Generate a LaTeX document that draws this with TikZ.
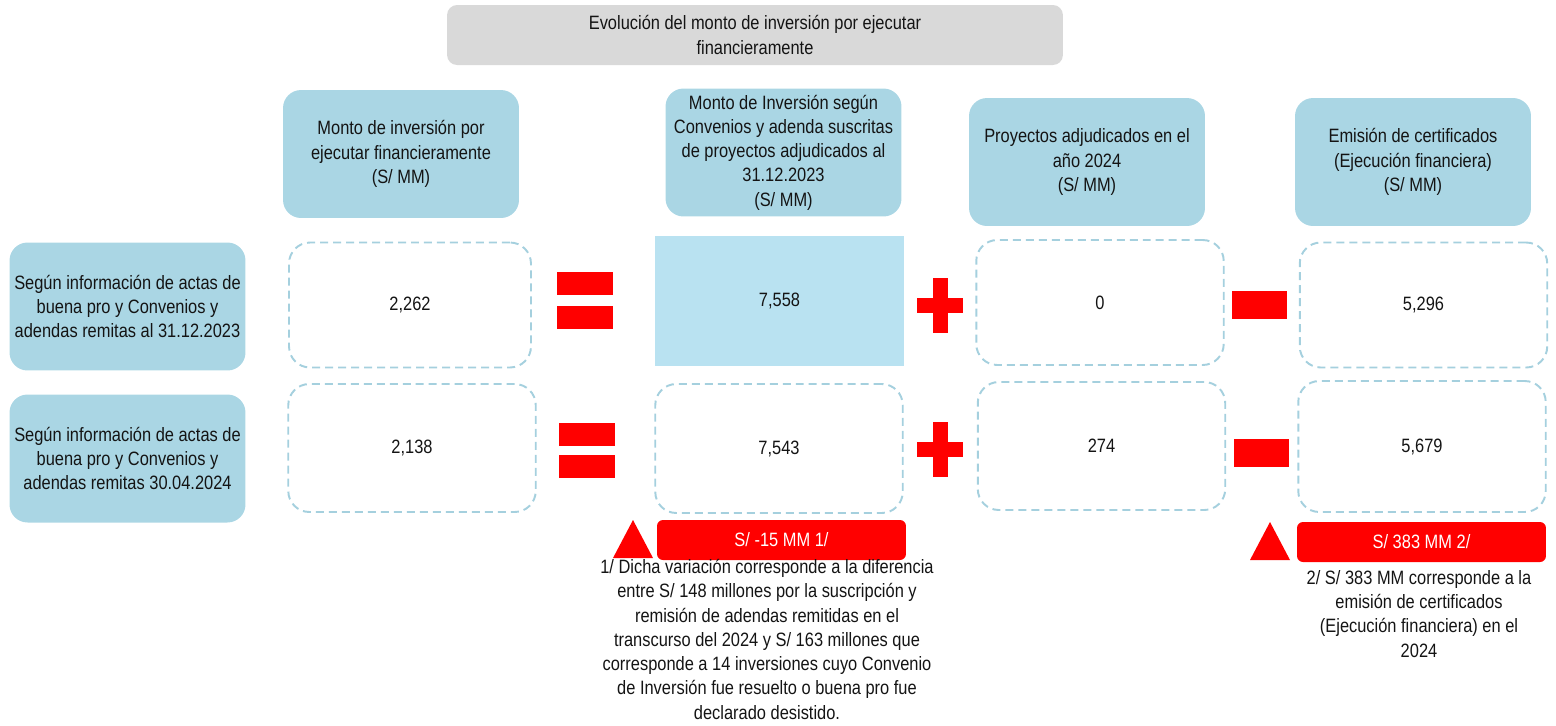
\documentclass[tikz,border=0pt]{standalone}
\usepackage{fontspec}
\setmainfont{Liberation Sans}[FakeStretch=0.85]
\usetikzlibrary{positioning}
\definecolor{headblue}{RGB}{170,214,228}
\definecolor{cellblue}{RGB}{185,226,241}
\definecolor{dashblue}{RGB}{165,208,222}
\definecolor{titlegray}{RGB}{217,217,217}
\definecolor{opred}{RGB}{255,0,0}
\definecolor{textdark}{RGB}{20,20,20}

\begin{document}
\begin{tikzpicture}[
    x=0.02cm, y=-0.02cm,
    every node/.style={font=\fontsize{11}{13.8}\selectfont, text=textdark},
    titlebox/.style={rectangle, fill=titlegray, rounded corners=0.2cm, minimum width=12.32cm, minimum height=1.2cm, align=center},
    headbox/.style={rectangle, fill=headblue, rounded corners=0.36cm, minimum width=4.72cm, minimum height=2.56cm, align=center, inner sep=2pt},
    valbox/.style={rectangle, draw=dashblue, line width=1.1pt, dash pattern=on 0.16cm off 0.1cm, rounded corners=0.42cm, minimum width=4.95cm, minimum height=2.5cm},
    cellbox/.style={rectangle, fill=cellblue, minimum width=4.98cm, minimum height=2.6cm},
    eqbar/.style={rectangle, fill=opred, minimum width=1.12cm, minimum height=0.46cm, inner sep=0pt},
    plush/.style={rectangle, fill=opred, minimum width=0.92cm, minimum height=0.3cm, inner sep=0pt},
    plusv/.style={rectangle, fill=opred, minimum width=0.3cm, minimum height=1.1cm, inner sep=0pt},
    minusbar/.style={rectangle, fill=opred, minimum width=1.1cm, minimum height=0.56cm, inner sep=0pt},
    varbar/.style={rectangle, fill=opred, rounded corners=0.12cm, minimum width=4.98cm, minimum height=0.8cm, text=white},
    note/.style={align=center, inner sep=0pt, anchor=north}
]
\useasboundingbox (0,0) rectangle (1556,725);

% Titulo
\node[titlebox] (title) at (755,35) {Evolución del monto de inversión por ejecutar\\financieramente};

% Cabeceras de columnas
\node[headbox] (head1) at (401,154) {Monto de inversión por\\ejecutar financieramente\\(S/ MM)};
\node[headbox] (head2) at (783.5,152.5) {Monto de Inversión según\\Convenios y adenda suscritas\\de proyectos adjudicados al\\31.12.2023\\(S/ MM)};
\node[headbox] (head3) at (1087,162) {Proyectos adjudicados en el\\año 2024\\(S/ MM)};
\node[headbox] (head4) at (1413,162) {Emisión de certificados\\(Ejecución financiera)\\(S/ MM)};

% Filas
\node[headbox] (row1) at (127.5,306.5) {Según información de actas de\\buena pro y Convenios y\\adendas remitas al 31.12.2023};
\node[headbox] (row2) at (127.5,458.5) {Según información de actas de\\buena pro y Convenios y\\adendas remitas 30.04.2024};

% Valores fila 1
\node[valbox, minimum width=4.84cm] (val11) at (410,305) {2,262};
\node[cellbox] (val12) at (779.5,301) {7,558};
\node[valbox] (val13) at (1100,302.5) {0};
\node[valbox] (val14) at (1423.5,305) {5,296};

% Valores fila 2
\node[valbox, minimum height=2.56cm] (val21) at (412,448) {2,138};
\node[valbox, minimum height=2.58cm] (val22) at (779,448.5) {7,543};
\node[valbox, minimum height=2.56cm] (val23) at (1101.5,446) {274};
\node[valbox, minimum height=2.62cm] (val24) at (1422,446.5) {5,679};

% Operadores fila 1
\node[eqbar] (eq1a) at (585,283.5) {};
\node[eqbar] (eq1b) at (585,317.5) {};
\node[plush] (plus1h) at (940,305.5) {};
\node[plusv] (plus1v) at (940,305) {};
\node[minusbar] (minus1) at (1259.5,304.5) {};

% Operadores fila 2
\node[eqbar] (eq2a) at (587,434) {};
\node[eqbar] (eq2b) at (587,466.5) {};
\node[plush] (plus2h) at (940,449.5) {};
\node[plusv] (plus2v) at (940,449.5) {};
\node[minusbar] (minus2) at (1261,452.5) {};

% Variaciones
\fill[opred] (613,558) -- (633,520) -- (653,558) -- cycle;
\fill[opred] (1250,560) -- (1270,522) -- (1290,560) -- cycle;
\node[varbar] (var1) at (781.5,540) {S/ -15 MM 1/};
\node[varbar] (var2) at (1421.5,542) {S/ 383 MM 2/};

% Notas
\node[note] (note1) at (767,559) {1/ Dicha variación corresponde a la diferencia\\entre S/ 148 millones por la suscripción y\\remisión de adendas remitidas en el\\transcurso del 2024 y S/ 163 millones que\\corresponde a 14 inversiones cuyo Convenio\\de Inversión fue resuelto o buena pro fue\\declarado desistido.};
\node[note] (note2) at (1419,570) {2/ S/ 383 MM corresponde a la\\emisión de certificados\\(Ejecución financiera) en el\\2024};

\end{tikzpicture}
\end{document}
